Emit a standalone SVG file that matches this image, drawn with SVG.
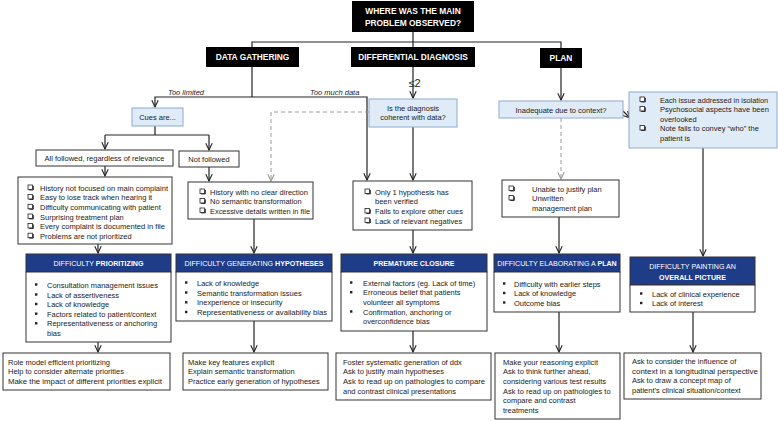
<svg xmlns="http://www.w3.org/2000/svg" width="778" height="421" viewBox="0 0 778 421">
<defs>
<style>
.t{font-family:"Liberation Sans",Arial,sans-serif;font-size:7.5px;fill:#222}
.m{text-anchor:middle}
.it{font-style:italic}
.bw{font-family:"Liberation Sans",Arial,sans-serif;font-weight:bold;font-size:8.4px;fill:#fff;text-anchor:middle}
.hw{font-family:"Liberation Sans",Arial,sans-serif;font-size:7.1px;fill:#fff;text-anchor:middle}
.b{font-weight:bold}
.box{fill:#fff;stroke:#333;stroke-width:1}
.q{fill:#dfebf7;stroke:#8eaacb;stroke-width:1}
.nv{fill:#1f3c88;stroke:#333;stroke-width:1}
.blk{fill:#000}
.c{fill:none;stroke:#222;stroke-width:1.2}
.d{fill:none;stroke:#9a9a9a;stroke-width:1;stroke-dasharray:4 3}
.bu{fill:#222}
</style>
<marker id="a" viewBox="0 0 8 8" refX="7.2" refY="4" markerWidth="8" markerHeight="8" markerUnits="userSpaceOnUse" orient="auto"><path d="M0.5,0.8 L7.2,4 L0.5,7.2" fill="none" stroke="#222" stroke-width="1.1"/></marker>
<marker id="g" viewBox="0 0 8 8" refX="7.2" refY="4" markerWidth="8" markerHeight="8" markerUnits="userSpaceOnUse" orient="auto"><path d="M0.5,0.8 L7.2,4 L0.5,7.2" fill="none" stroke="#9a9a9a" stroke-width="1.1"/></marker>
<g id="cb"><rect x="0" y="-5.5" width="4.5" height="4.5" fill="#fff" stroke="#222" stroke-width="0.8"/><path d="M1.2,-0.6 H5.3 V-4.6" fill="none" stroke="#222" stroke-width="1"/></g>
<rect id="bl" x="0" y="-4.2" width="2.4" height="2.4"/>
</defs>

<g id="connectors">
<path class="c" d="M413,32 V47"/>
<path class="c" d="M252,47 V42 H561 V48"/>
<path class="c" d="M252,67 V97"/>
<path class="c" marker-end="url(#a)" d="M252,97 H155 V107"/>
<path class="c" marker-end="url(#a)" d="M252,97 H367 V180"/>
<path class="c" marker-end="url(#a)" d="M413,67 V98"/>
<path class="c" d="M155,126 V135 M105,135 H209"/>
<path class="c" marker-end="url(#a)" d="M105,135 V149"/>
<path class="c" marker-end="url(#a)" d="M209,135 V150"/>
<path class="c" marker-end="url(#a)" d="M105,166 V176"/>
<path class="c" marker-end="url(#a)" d="M98,244 V253"/>
<path class="c" marker-end="url(#a)" d="M98,342 V352"/>
<path class="c" marker-end="url(#a)" d="M209,167 V181"/>
<path class="d" marker-end="url(#g)" d="M369,112 H271 V181"/>
<path class="c" marker-end="url(#a)" d="M254,219 V253"/>
<path class="c" marker-end="url(#a)" d="M254,321 V352"/>
<path class="c" marker-end="url(#a)" d="M413,127 V180"/>
<path class="c" marker-end="url(#a)" d="M413,230 V253"/>
<path class="c" marker-end="url(#a)" d="M413,331 V352"/>
<path class="c" marker-end="url(#a)" d="M561,68 V100"/>
<path class="c" marker-end="url(#a)" d="M623,111 L630,118"/>
<path class="d" marker-end="url(#g)" d="M561,118 V179"/>
<path class="c" marker-end="url(#a)" d="M559,217 V253"/>
<path class="c" marker-end="url(#a)" d="M559,312 V352"/>
<path class="c" marker-end="url(#a)" d="M703,148 V256"/>
<path class="c" marker-end="url(#a)" d="M693,312 V352"/>
<text class="t it" x="168" y="95">Too limited</text>
<text class="t it" x="310" y="95">Too much data</text>
<text class="t" x="408.5" y="87" style="font-size:11px">≤2</text>
</g>

<g id="root">
<rect class="blk" x="352" y="1" width="122" height="31"/>
<text class="bw" x="413" y="14">WHERE WAS THE MAIN</text>
<text class="bw" x="413" y="26">PROBLEM OBSERVED?</text>
</g>
<g id="data-gathering">
<rect class="blk" x="206" y="47" width="93" height="20"/>
<text class="bw" x="252.5" y="60">DATA GATHERING</text>
</g>
<g id="differential-diagnosis">
<rect class="blk" x="351" y="47" width="124" height="20"/>
<text class="bw" x="413" y="60">DIFFERENTIAL DIAGNOSIS</text>
</g>
<g id="plan">
<rect class="blk" x="540" y="48" width="42" height="20"/>
<text class="bw" x="561" y="61">PLAN</text>
</g>

<g id="cues">
<rect class="q" x="132" y="108" width="51" height="18"/>
<text class="t m" x="157.5" y="120">Cues are...</text>
</g>
<g id="all-followed">
<rect class="box" x="36" y="150" width="137" height="16"/>
<text class="t m" x="104.5" y="161">All followed, regardless of relevance</text>
</g>
<g id="not-followed">
<rect class="box" x="179" y="151" width="60" height="16"/>
<text class="t m" x="209" y="162">Not followed</text>
</g>

<g id="checklist-1">
<rect class="box" x="18" y="177" width="154" height="67"/>
<use href="#cb" x="28" y="190.5"/><text class="t" x="40" y="190.5" textLength="128" lengthAdjust="spacingAndGlyphs">History not focused on main complaint</text>
<use href="#cb" x="28" y="200"/><text class="t" x="40" y="200">Easy to lose track when hearing it</text>
<use href="#cb" x="28" y="209.8"/><text class="t" x="40" y="209.8">Difficulty communicating with patient</text>
<use href="#cb" x="28" y="219.5"/><text class="t" x="40" y="219.5">Surprising treatment plan</text>
<use href="#cb" x="28" y="229"/><text class="t" x="40" y="229" textLength="125" lengthAdjust="spacingAndGlyphs">Every complaint is documented in file</text>
<use href="#cb" x="28" y="238.7"/><text class="t" x="40" y="238.7">Problems are not prioritized</text>
</g>
<g id="prioritizing">
<rect class="nv" x="26" y="254" width="145" height="18"/>
<text class="hw" x="98.5" y="266">DIFFICULTY <tspan class="b">PRIORITIZING</tspan></text>
<rect class="box" x="26" y="272" width="145" height="70"/>
<use href="#bl" class="bu" x="35" y="287.5"/><text class="t" x="47" y="287.5">Consultation management issues</text>
<use href="#bl" class="bu" x="35" y="297.5"/><text class="t" x="47" y="297.5">Lack of assertiveness</text>
<use href="#bl" class="bu" x="35" y="307"/><text class="t" x="47" y="307">Lack of knowledge</text>
<use href="#bl" class="bu" x="35" y="316.7"/><text class="t" x="47" y="316.7">Factors related to patient/context</text>
<use href="#bl" class="bu" x="35" y="326.3"/><text class="t" x="47" y="326.3">Representativeness or anchoring</text>
<text class="t" x="47" y="336">bias</text>
</g>
<g id="advice-1">
<rect class="box" x="3" y="353" width="167" height="37"/>
<text class="t" x="8" y="364.5">Role model efficient prioritizing</text>
<text class="t" x="8" y="374.3">Help to consider alternate priorities</text>
<text class="t" x="8" y="384" textLength="154" lengthAdjust="spacingAndGlyphs">Make the impact of different priorities explicit</text>
</g>

<g id="checklist-2">
<rect class="box" x="188" y="182" width="125" height="37"/>
<use href="#cb" x="200" y="194.5"/><text class="t" x="210" y="194.5">History with no clear direction</text>
<use href="#cb" x="200" y="204"/><text class="t" x="210" y="204">No semantic transformation</text>
<use href="#cb" x="200" y="213.5"/><text class="t" x="210" y="213.5" textLength="100" lengthAdjust="spacingAndGlyphs">Excessive details written in file</text>
</g>
<g id="hypotheses">
<rect class="nv" x="176" y="254" width="156" height="18"/>
<text class="hw" x="254" y="266">DIFFICULTY GENERATING <tspan class="b">HYPOTHESES</tspan></text>
<rect class="box" x="176" y="272" width="156" height="49"/>
<use href="#bl" class="bu" x="185" y="285.5"/><text class="t" x="197" y="285.5">Lack of knowledge</text>
<use href="#bl" class="bu" x="185" y="295.5"/><text class="t" x="197" y="295.5">Semantic transformation issues</text>
<use href="#bl" class="bu" x="185" y="305.3"/><text class="t" x="197" y="305.3">Inexperience or insecurity</text>
<use href="#bl" class="bu" x="185" y="315"/><text class="t" x="197" y="315" textLength="130" lengthAdjust="spacingAndGlyphs">Representativeness or availability bias</text>
</g>
<g id="advice-2">
<rect class="box" x="183" y="353" width="145" height="37"/>
<text class="t" x="188" y="364.5">Make key features explicit</text>
<text class="t" x="188" y="374.3">Explain semantic transformation</text>
<text class="t" x="188" y="384">Practice early generation of hypotheses</text>
</g>

<g id="coherent">
<rect class="q" x="369" y="99" width="88" height="28"/>
<text class="t m" x="413" y="110.5">Is the diagnosis</text>
<text class="t m" x="413" y="120">coherent with data?</text>
</g>
<g id="checklist-3">
<rect class="box" x="353" y="181" width="119" height="49"/>
<use href="#cb" x="365" y="194.5"/><text class="t" x="375" y="194.5">Only 1 hypothesis has</text>
<text class="t" x="375" y="204">been verified</text>
<use href="#cb" x="365" y="214"/><text class="t" x="375" y="214">Fails to explore other cues</text>
<use href="#cb" x="365" y="223.5"/><text class="t" x="375" y="223.5">Lack of relevant negatives</text>
</g>
<g id="premature-closure">
<rect class="nv" x="341" y="254" width="146" height="18"/>
<text class="hw b" x="414" y="266">PREMATURE CLOSURE</text>
<rect class="box" x="341" y="272" width="146" height="59"/>
<use href="#bl" class="bu" x="350" y="285.5"/><text class="t" x="363" y="285.5">External factors (eg. Lack of time)</text>
<use href="#bl" class="bu" x="350" y="295.2"/><text class="t" x="363" y="295.2">Erroneous belief that patients</text>
<text class="t" x="363" y="304.8">volunteer all symptoms</text>
<use href="#bl" class="bu" x="350" y="314.5"/><text class="t" x="363" y="314.5">Confirmation, anchoring or</text>
<text class="t" x="363" y="324">overconfidence bias</text>
</g>
<g id="advice-3">
<rect class="box" x="336" y="353" width="155" height="47"/>
<text class="t" x="343" y="364.5">Foster systematic generation of ddx</text>
<text class="t" x="343" y="374.3">Ask to justify main hypotheses</text>
<text class="t" x="343" y="384" textLength="142" lengthAdjust="spacingAndGlyphs">Ask to read up on pathologies to compare</text>
<text class="t" x="343" y="393.7">and contrast clinical presentations</text>
</g>

<g id="inadequate">
<rect class="q" x="499" y="101" width="124" height="17"/>
<text class="t m" x="561" y="112.5">Inadequate due to context?</text>
</g>
<g id="context-note">
<rect class="q" x="629" y="92" width="148" height="56"/>
<use href="#cb" x="640" y="102.5"/><text class="t" x="660" y="102.5" textLength="108" lengthAdjust="spacingAndGlyphs">Each issue addressed in isolation</text>
<use href="#cb" x="640" y="112"/><text class="t" x="660" y="112">Psychosocial aspects have been</text>
<text class="t" x="660" y="121.5">overlooked</text>
<use href="#cb" x="640" y="131"/><text class="t" x="660" y="131">Note fails to convey “who” the</text>
<text class="t" x="660" y="140.5">patient is</text>
</g>
<g id="checklist-4">
<rect class="box" x="502" y="180" width="117" height="37"/>
<use href="#cb" x="509" y="191.5"/><text class="t" x="532" y="191.5">Unable to justify plan</text>
<use href="#cb" x="509" y="201"/><text class="t" x="532" y="201">Unwritten</text>
<text class="t" x="532" y="210.5">management plan</text>
</g>
<g id="elaborating-plan">
<rect class="nv" x="494" y="254" width="126" height="18"/>
<text class="hw" x="557" y="266">DIFFICULTY ELABORATING A <tspan class="b">PLAN</tspan></text>
<rect class="box" x="494" y="272" width="126" height="40"/>
<use href="#bl" class="bu" x="503" y="286.5"/><text class="t" x="514" y="286.5">Difficulty with earlier steps</text>
<use href="#bl" class="bu" x="503" y="296"/><text class="t" x="514" y="296">Lack of knowledge</text>
<use href="#bl" class="bu" x="503" y="305.5"/><text class="t" x="514" y="305.5">Outcome bias</text>
</g>
<g id="advice-4">
<rect class="box" x="495" y="353" width="125" height="66"/>
<text class="t" x="503" y="364.5">Make your reasoning explicit</text>
<text class="t" x="503" y="374.3">Ask to think further ahead,</text>
<text class="t" x="503" y="384">considering various test results</text>
<text class="t" x="503" y="393.7">Ask to read up on pathologies to</text>
<text class="t" x="503" y="403.4">compare and contrast</text>
<text class="t" x="503" y="413">treatments</text>
</g>

<g id="overall-picture">
<rect class="nv" x="630" y="257" width="125" height="28"/>
<text class="hw" x="692.5" y="269">DIFFICULTY PAINTING AN</text>
<text class="hw b" x="692.5" y="279.5">OVERALL PICTURE</text>
<rect class="box" x="630" y="285" width="125" height="27"/>
<use href="#bl" class="bu" x="640" y="296.5"/><text class="t" x="652" y="296.5">Lack of clinical experience</text>
<use href="#bl" class="bu" x="640" y="306"/><text class="t" x="652" y="306">Lack of interest</text>
</g>
<g id="advice-5">
<rect class="box" x="624" y="353" width="137" height="46"/>
<text class="t" x="632" y="364">Ask to consider the influence of</text>
<text class="t" x="632" y="373.7" textLength="126" lengthAdjust="spacingAndGlyphs">context in a longitudinal perspective</text>
<text class="t" x="632" y="383.4">Ask to draw a concept map of</text>
<text class="t" x="632" y="393">patient’s clinical situation/context</text>
</g>
</svg>
